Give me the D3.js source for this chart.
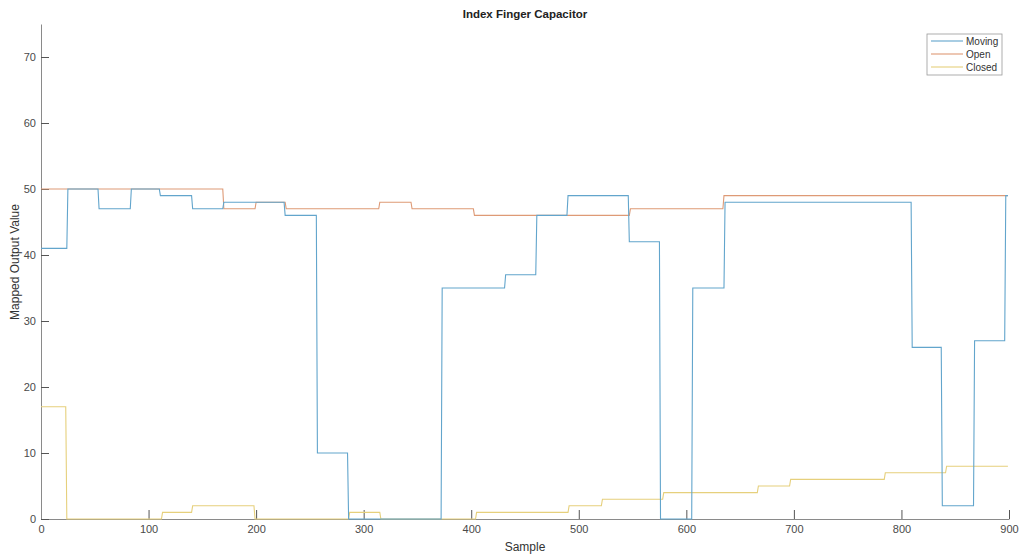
<!DOCTYPE html>
<html>
<head>
<meta charset="utf-8">
<script src="https://cdn.jsdelivr.net/npm/d3@7"></script>
<style>
  body { margin: 0; background: #fff; }
  svg text { font-family: "Liberation Sans", Arial, sans-serif; }
</style>
</head>
<body>
<script>
// step series: sample where each level starts, and the level
const movingStart = [0, 25, 54, 84, 111, 141, 170, 227, 257, 286, 373, 432, 461, 490, 547, 576, 606, 636, 810, 838, 868, 897];
const movingLevel = [41, 50, 47, 50, 49, 47, 48, 46, 10, 0, 35, 37, 46, 49, 42, 0, 35, 48, 26, 2, 27, 49];

const openStart = [0, 170, 200, 228, 315, 345, 403, 548, 635];
const openLevel = [50, 47, 48, 47, 48, 47, 46, 47, 49];

const closedStart = [0, 24, 113, 141, 199, 287, 316, 405, 491, 522, 579, 667, 697, 785, 842];
const closedLevel = [17, 0, 1, 2, 0, 1, 0, 1, 2, 3, 4, 5, 6, 7, 8];

const lastSample = 899;
const seriesNames = ["Moving", "Open", "Closed"];
const seriesColors = ["#62a5cc", "#de9a76", "#e6d07c"];
const xTicks = [0, 100, 200, 300, 400, 500, 600, 700, 800, 900];
const yTicks = [0, 10, 20, 30, 40, 50, 60, 70];

// turn starts/levels into vertices (one sample per transition)
function stepPoints(starts, levels) {
    var pts = [];
    for (var i = 0; i < starts.length; i++) {
        var end = i < starts.length - 1 ? starts[i + 1] - 1 : lastSample;
        pts.push([starts[i], levels[i]]);
        pts.push([end, levels[i]]);
    }
    return pts;
}

const margin = {top: 24, right: 12, bottom: 37, left: 41};
var width = 1021 - margin.left - margin.right,
    height = 556 - margin.top - margin.bottom;

var svg = d3.select("body").append("svg")
    .attr("width", 1021)
    .attr("height", 556);

var g = svg.append("g")
    .attr("transform", "translate(" + margin.left + "," + margin.top + ")");

var x = d3.scaleLinear().domain([0, 900]).range([0, width]);
var y = d3.scaleLinear().domain([0, 75]).range([height, 0]);

// axes, ticks pointing inward like matlab
var xAxis = g.append("g")
    .attr("transform", "translate(0," + height + ")")
    .call(d3.axisBottom(x).tickValues(xTicks).tickSizeInner(-9).tickSizeOuter(0).tickPadding(6));

var yAxis = g.append("g")
    .call(d3.axisLeft(y).tickValues(yTicks).tickSizeInner(-8).tickSizeOuter(0).tickPadding(5));

[xAxis, yAxis].forEach(function (a) {
    a.select(".domain").attr("stroke", "#8a8a8a");
    a.selectAll(".tick line").attr("stroke", "#555");
    a.selectAll(".tick text")
        .attr("fill", "#4a4a4a")
        .attr("font-size", "11px")
        .attr("font-family", "Liberation Sans, Arial, sans-serif");
});

var line = d3.line()
    .x(function (d) { return x(d[0]); })
    .y(function (d) { return y(d[1]); });

var allSeries = [
    stepPoints(movingStart, movingLevel),
    stepPoints(openStart, openLevel),
    stepPoints(closedStart, closedLevel)
];

// draw closed first so moving sits on top
[2, 1, 0].forEach(function (i) {
    g.append("path")
        .datum(allSeries[i])
        .attr("fill", "none")
        .attr("stroke", seriesColors[i])
        .attr("stroke-width", 1.1)
        .attr("d", line);
});

// title and labels
svg.append("text")
    .text("Index Finger Capacitor")
    .attr("x", margin.left + width / 2)
    .attr("y", 18)
    .attr("text-anchor", "middle")
    .attr("font-weight", "bold")
    .attr("font-size", "11.5px")
    .attr("fill", "#222");

svg.append("text")
    .text("Sample")
    .attr("x", margin.left + width / 2)
    .attr("y", 551)
    .attr("text-anchor", "middle")
    .attr("font-size", "12px")
    .attr("fill", "#333");

svg.append("text")
    .text("Mapped Output Value")
    .attr("transform", "translate(19," + 262 + ") rotate(-90)")
    .attr("text-anchor", "middle")
    .attr("font-size", "12px")
    .attr("fill", "#333");

// legend
var legend = svg.append("g").attr("transform", "translate(927,34)");
legend.append("rect")
    .attr("width", 75)
    .attr("height", 41)
    .attr("fill", "#fff")
    .attr("stroke", "#999")
    .attr("stroke-width", 0.8);

seriesNames.forEach(function (name, i) {
    var row = legend.append("g").attr("transform", "translate(0," + (7 + i * 13) + ")");
    row.append("line")
        .attr("x1", 4).attr("x2", 36)
        .attr("y1", 0).attr("y2", 0)
        .attr("stroke", seriesColors[i])
        .attr("stroke-width", 1.1);
    row.append("text")
        .text(name)
        .attr("x", 39)
        .attr("y", 3.5)
        .attr("font-size", "10px")
        .attr("fill", "#333");
});
</script>
</body>
</html>
